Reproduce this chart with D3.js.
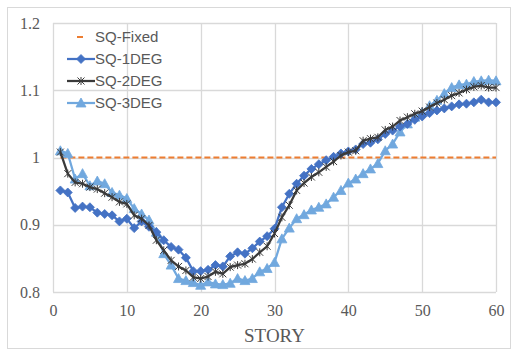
<!DOCTYPE html>
<html><head><meta charset="utf-8">
<script src="https://cdn.jsdelivr.net/npm/d3@7"></script>
<style>body{margin:0;background:#fff}svg{display:block}</style>
</head><body>
<svg id="c" width="515" height="353"></svg>
<script>
const stories = [1,2,3,4,5,6,7,8,9,10,11,12,13,14,15,16,17,18,19,20,21,22,23,24,25,26,27,28,29,30,31,32,33,34,35,36,37,38,39,40,41,42,43,44,45,46,47,48,49,50,51,52,53,54,55,56,57,58,59,60];
const sqFixed = [1,1,1,1,1,1,1,1,1,1,1,1,1,1,1,1,1,1,1,1,1,1,1,1,1,1,1,1,1,1,1,1,1,1,1,1,1,1,1,1,1,1,1,1,1,1,1,1,1,1,1,1,1,1,1,1,1,1,1,1];
const sq1 = [0.951,0.948,0.925,0.927,0.926,0.918,0.916,0.914,0.905,0.909,0.895,0.905,0.897,0.889,0.877,0.867,0.863,0.851,0.831,0.831,0.833,0.840,0.838,0.853,0.859,0.857,0.865,0.875,0.883,0.894,0.926,0.946,0.961,0.973,0.983,0.990,0.996,1.001,1.006,1.009,1.012,1.020,1.022,1.027,1.035,1.040,1.046,1.050,1.056,1.061,1.066,1.070,1.073,1.076,1.079,1.080,1.082,1.086,1.082,1.082];
const sq2 = [1.008,0.976,0.963,0.961,0.956,0.953,0.947,0.941,0.934,0.931,0.914,0.909,0.899,0.877,0.862,0.847,0.838,0.832,0.822,0.820,0.823,0.830,0.827,0.837,0.840,0.842,0.849,0.859,0.868,0.887,0.911,0.929,0.951,0.962,0.971,0.978,0.986,0.994,1.003,1.008,1.010,1.025,1.028,1.030,1.041,1.046,1.055,1.060,1.065,1.069,1.075,1.081,1.086,1.092,1.096,1.101,1.105,1.107,1.104,1.104];
const sq3 = [1.010,1.006,0.968,0.976,0.958,0.965,0.961,0.948,0.944,0.939,0.924,0.916,0.907,0.889,0.857,0.840,0.820,0.817,0.814,0.810,0.815,0.812,0.811,0.813,0.820,0.817,0.820,0.830,0.835,0.844,0.879,0.895,0.909,0.915,0.922,0.926,0.931,0.941,0.951,0.962,0.968,0.976,0.983,0.991,1.010,1.020,1.038,1.050,1.060,1.067,1.077,1.085,1.095,1.104,1.108,1.109,1.113,1.114,1.115,1.114];
const xTicks = [0,10,20,30,40,50,60];
const yTicks = [0.8,0.9,1.0,1.1,1.2];
const yTickLabels = ["0.8","0.9","1","1.1","1.2"];
const seriesNames = ["SQ-Fixed","SQ-1DEG","SQ-2DEG","SQ-3DEG"];

const svg = d3.select("#c");
const L=53,R=496,T=23,B=292;
const x = d3.scaleLinear().domain([0,60]).range([L,R]);
const y = d3.scaleLinear().domain([0.8,1.2]).range([B,T]);

svg.append("rect").attr("x",7.5).attr("y",7.5).attr("width",503).attr("height",341)
  .attr("fill","#fff").attr("stroke","#d9d9d9");

// gridlines
const g = svg.append("g");
g.selectAll(".hy").data(yTicks).join("line")
  .attr("x1",L).attr("x2",R).attr("y1",d=>Math.round(y(d))+0.5).attr("y2",d=>Math.round(y(d))+0.5)
  .attr("stroke","#d9d9d9").attr("stroke-width",1.3);
g.selectAll(".vx").data(xTicks).join("line")
  .attr("y1",T).attr("y2",B).attr("x1",d=>Math.round(x(d))+0.5).attr("x2",d=>Math.round(x(d))+0.5)
  .attr("stroke","#d9d9d9").attr("stroke-width",1.3);

// axes labels via d3 axes
const xAxis = svg.append("g").attr("transform",`translate(0,${B})`)
  .call(d3.axisBottom(x).tickValues(xTicks).tickSize(0).tickPadding(13).tickFormat(d3.format("d")));
xAxis.select(".domain").remove();
xAxis.selectAll("text").attr("font-family","'Liberation Serif','Times New Roman',serif").attr("font-size",16).attr("fill","#595959");
const yAxis = svg.append("g").attr("transform",`translate(${L},0)`)
  .call(d3.axisLeft(y).tickValues(yTicks).tickSize(0).tickPadding(13).tickFormat((d,i)=>yTickLabels[i]));
yAxis.select(".domain").remove();
yAxis.selectAll("text").attr("font-family","'Liberation Serif','Times New Roman',serif").attr("font-size",16).attr("fill","#595959");

svg.append("text").attr("x",(L+R)/2).attr("y",342).attr("text-anchor","middle")
  .attr("font-family","'Liberation Serif','Times New Roman',serif").attr("font-size",19).attr("fill","#595959").text("STORY");

const line = d3.line().x((d,i)=>x(stories[i])).y(d=>y(d));

// Fixed dashed
svg.append("path").datum(sqFixed).attr("d",line).attr("fill","none")
  .attr("stroke","#ED7D31").attr("stroke-width",2).attr("stroke-dasharray","6,3");

const c1="#4472C4", c2="#3a3a3a", c3="#71A8DE";
function diamond(sel,cx,cy){ sel.append("path").attr("d",`M${cx},${cy-4.5}L${cx+4.5},${cy}L${cx},${cy+4.5}L${cx-4.5},${cy}Z`).attr("fill",c1).attr("stroke",c1).attr("stroke-width",0.8); }
function star(sel,cx,cy){ const r=3.5; sel.append("path").attr("d",`M${cx-r},${cy-r}L${cx+r},${cy+r}M${cx-r},${cy+r}L${cx+r},${cy-r}M${cx},${cy-r-0.5}L${cx},${cy+r+0.5}`).attr("fill","none").attr("stroke",c2).attr("stroke-width",1); }
function tri(sel,cx,cy){ sel.append("path").attr("d",`M${cx},${cy-5}L${cx+5},${cy+4}L${cx-5},${cy+4}Z`).attr("fill",c3).attr("stroke",c3).attr("stroke-width",0.8); }

// 3DEG
const g3=svg.append("g");
g3.append("path").datum(sq3).attr("d",line).attr("fill","none").attr("stroke",c3).attr("stroke-width",2.25);
sq3.forEach((v,i)=>tri(g3,x(stories[i]),y(v)));
// 1DEG
const g1=svg.append("g");
g1.append("path").datum(sq1).attr("d",line).attr("fill","none").attr("stroke",c1).attr("stroke-width",2.25);
sq1.forEach((v,i)=>diamond(g1,x(stories[i]),y(v)));
// 2DEG
const g2=svg.append("g");
g2.append("path").datum(sq2).attr("d",line).attr("fill","none").attr("stroke",c2).attr("stroke-width",2.25);
sq2.forEach((v,i)=>star(g2,x(stories[i]),y(v)));

// legend
const lg = svg.append("g");
const rowsY=[37,59,81,103];
seriesNames.forEach((n,i)=>{
  const yy=rowsY[i];
  if(i===0){
    lg.append("line").attr("x1",77).attr("x2",83).attr("y1",yy).attr("y2",yy).attr("stroke","#ED7D31").attr("stroke-width",2);
  } else {
    const col=[null,c1,c2,c3][i];
    lg.append("line").attr("x1",67).attr("x2",95).attr("y1",yy).attr("y2",yy).attr("stroke",col).attr("stroke-width",2.25);
    if(i===1) diamond(lg,81,yy); else if(i===2) star(lg,81,yy); else tri(lg,81,yy);
  }
  lg.append("text").attr("x",95).attr("y",yy).attr("dy","0.36em")
    .attr("font-family","'Liberation Sans',Arial,sans-serif").attr("font-size",15).attr("fill","#595959").text(n);
});
</script>
</body></html>
